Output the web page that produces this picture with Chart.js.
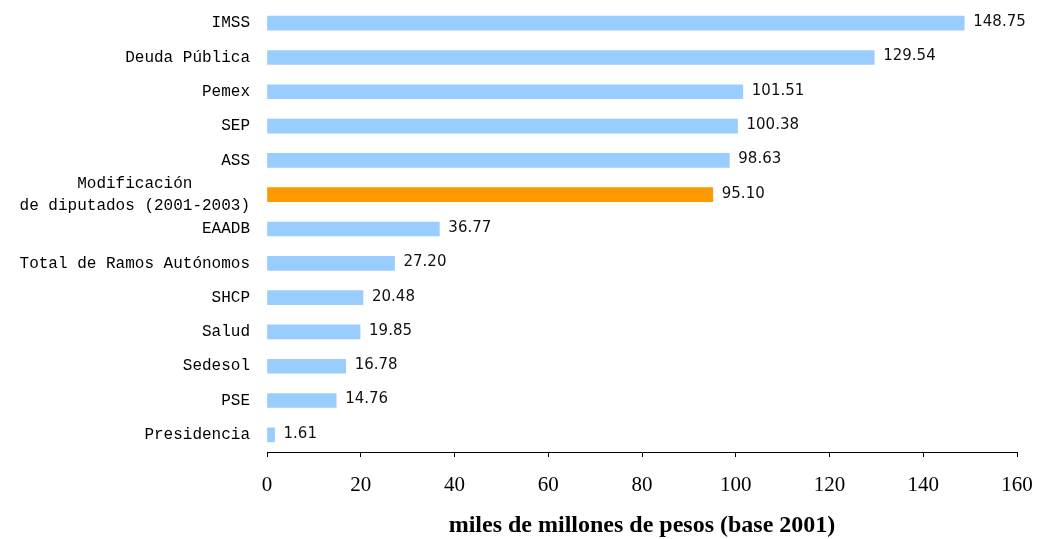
<!DOCTYPE html>
<html>
<head>
<meta charset="utf-8">
<script src="https://cdn.jsdelivr.net/npm/chart.js@4.4.1/dist/chart.umd.min.js"></script>
<style>
    html, body { margin: 0; padding: 0; background: #fff; }
    #wrap { width: 1037px; height: 539px; }
</style>
</head>
<body>
<div id="wrap"><canvas id="chart" width="1037" height="539"></canvas></div>
<script>
// Chart data
const categories = [
    'IMSS',
    'Deuda Pública',
    'Pemex',
    'SEP',
    'ASS',
    ['Modificación      ', 'de diputados (2001-2003)'],
    'EAADB',
    'Total de Ramos Autónomos',
    'SHCP',
    'Salud',
    'Sedesol',
    'PSE',
    'Presidencia'
];
const amounts = [148.75, 129.54, 101.51, 100.38, 98.63, 95.10, 36.77, 27.20, 20.48, 19.85, 16.78, 14.76, 1.61];
const highlighted = [false, false, false, false, false, true, false, false, false, false, false, false, false];
const xTicks = [0, 20, 40, 60, 80, 100, 120, 140, 160];
const axisTitle = 'miles de millones de pesos (base 2001)';

const BLUE = '#99ccff';
const ORANGE = '#ff9900';

// Draws the value at the end of each bar
const valueLabels = {
    id: 'valueLabels',
    afterDatasetsDraw(chart) {
        const ctx = chart.ctx;
        const meta = chart.getDatasetMeta(0);
        ctx.save();
        ctx.font = '15px "DejaVu Sans"';
        ctx.fillStyle = '#111';
        ctx.textAlign = 'left';
        ctx.textBaseline = 'middle';
        meta.data.forEach((bar, i) => {
            ctx.fillText(amounts[i].toFixed(2), bar.x + 9, bar.y - 1);
        });
        ctx.restore();
    }
};

const ctx = document.getElementById('chart').getContext('2d');
new Chart(ctx, {
    type: 'bar',
    data: {
        labels: categories,
        datasets: [{
            data: amounts,
            backgroundColor: highlighted.map(h => h ? ORANGE : BLUE),
            barThickness: 14
        }]
    },
    options: {
        indexAxis: 'y',
        responsive: false,
        animation: false,
        layout: { padding: { top: 6, right: 20, left: 0, bottom: 0 } },
        plugins: {
            legend: { display: false },
            tooltip: { enabled: false }
        },
        scales: {
            x: {
                min: 0,
                max: 160,
                afterBuildTicks: scale => {
                    scale.ticks = xTicks.map(v => ({ value: v }));
                },
                afterFit: scale => {
                    scale.height = 87;
                    scale.paddingLeft = 0;
                    scale.paddingRight = 0;
                },
                grid: { drawOnChartArea: false, drawTicks: true, tickLength: 5, color: '#000' },
                border: { display: true, color: '#000', width: 1 },
                ticks: {
                    color: '#000',
                    padding: 16,
                    autoSkip: false,
                    maxRotation: 0,
                    font: { family: '"Liberation Serif"', size: 21 }
                },
                title: {
                    display: true,
                    text: axisTitle,
                    color: '#000',
                    padding: { top: 0, bottom: 0 },
                    font: { family: '"Liberation Serif"', size: 24, weight: 'bold', lineHeight: 1.1 }
                }
            },
            y: {
                afterFit: scale => {
                    scale.width = 267;
                    scale.paddingTop = 0;
                    scale.paddingBottom = 0;
                },
                grid: { display: false },
                border: { display: false },
                ticks: {
                    color: '#000',
                    padding: 9,
                    autoSkip: false,
                    font: { family: '"Liberation Mono"', size: 16, lineHeight: 1.35 }
                }
            }
        }
    },
    plugins: [valueLabels]
});
</script>
</body>
</html>
